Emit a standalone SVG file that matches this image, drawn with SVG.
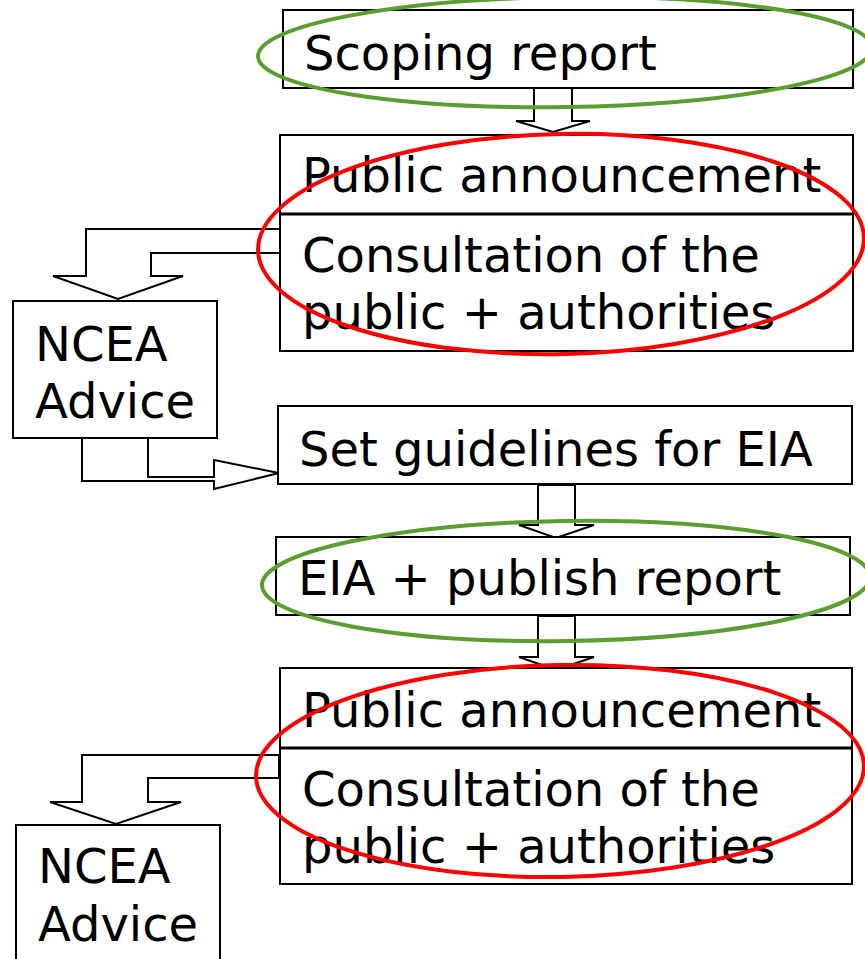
<svg xmlns="http://www.w3.org/2000/svg" width="865" height="959" viewBox="0 0 865 959">
<style>
.box{fill:#fff;stroke:#000;stroke-width:2}
.arr{fill:#fff;stroke:#000;stroke-width:2;stroke-linejoin:miter}
.t{font-family:"DejaVu Sans",Verdana,sans-serif;font-size:48px;fill:#000}
.g{fill:none;stroke:#5a9e2f;stroke-width:4}
.r{fill:none;stroke:#ff0000;stroke-width:4}
</style>
<rect width="865" height="959" fill="#fff"/>
<g id="connectors">
<polygon class="arr" points="534,88 572,88 572,121 590,121 553,132 516,121 534,121"/>
<polygon class="arr" points="281,229 86,229 86,276 53,276 118,299 183,276 151,276 151,253 281,253"/>
<polygon class="arr" points="82,438 82,481 214,481 214,489 279,473 214,460 214,477 148,477 148,438"/>
<polygon class="arr" points="538,485 575,485 575,525 594,525 556,538 519,525 538,525"/>
<polygon class="arr" points="538,616 575,616 575,657 594,657 556,670 519,657 538,657"/>
<polygon class="arr" points="279,755 82,755 82,802 50,802 116,824 181,802 148,802 148,778 279,778"/>
</g>
<g id="scoping">
<rect class="box" x="283" y="10" width="570" height="78"/>
<text class="t" x="304" y="70">Scoping report</text>
</g>
<g id="consult1">
<rect class="box" x="280" y="135" width="573" height="216"/>
<line x1="280" y1="214" x2="853" y2="214" stroke="#000" stroke-width="3"/>
<text class="t" x="302" y="192">Public announcement</text>
<text class="t" x="302" y="272">Consultation of the</text>
<text class="t" x="302" y="329">public + authorities</text>
</g>
<g id="ncea1">
<rect class="box" x="13" y="301" width="204" height="137"/>
<text class="t" x="35" y="361">NCEA</text>
<text class="t" x="35" y="418">Advice</text>
</g>
<g id="guidelines">
<rect class="box" x="278" y="406" width="574" height="78"/>
<text class="t" x="299" y="466">Set guidelines for EIA</text>
</g>
<g id="eia">
<rect class="box" x="276" y="537" width="574" height="78"/>
<text class="t" x="298" y="595">EIA + publish report</text>
</g>
<g id="consult2">
<rect class="box" x="280" y="668" width="572" height="216"/>
<line x1="280" y1="748" x2="852" y2="748" stroke="#000" stroke-width="3"/>
<text class="t" x="302" y="727">Public announcement</text>
<text class="t" x="302" y="806">Consultation of the</text>
<text class="t" x="302" y="863">public + authorities</text>
</g>
<g id="ncea2">
<rect class="box" x="16" y="825" width="204" height="150"/>
<text class="t" x="38" y="883">NCEA</text>
<text class="t" x="38" y="941">Advice</text>
</g>
<g id="highlights">
<ellipse class="g" cx="565" cy="52" rx="307" ry="55" transform="rotate(-0.8 565 52)"/>
<ellipse class="r" cx="561" cy="244" rx="303" ry="110" transform="rotate(-1.2 561 244)"/>
<ellipse class="g" cx="566" cy="581" rx="304" ry="60" transform="rotate(-0.8 566 581)"/>
<ellipse class="r" cx="560" cy="771" rx="304" ry="106" transform="rotate(-1 560 771)"/>
</g>
</svg>
